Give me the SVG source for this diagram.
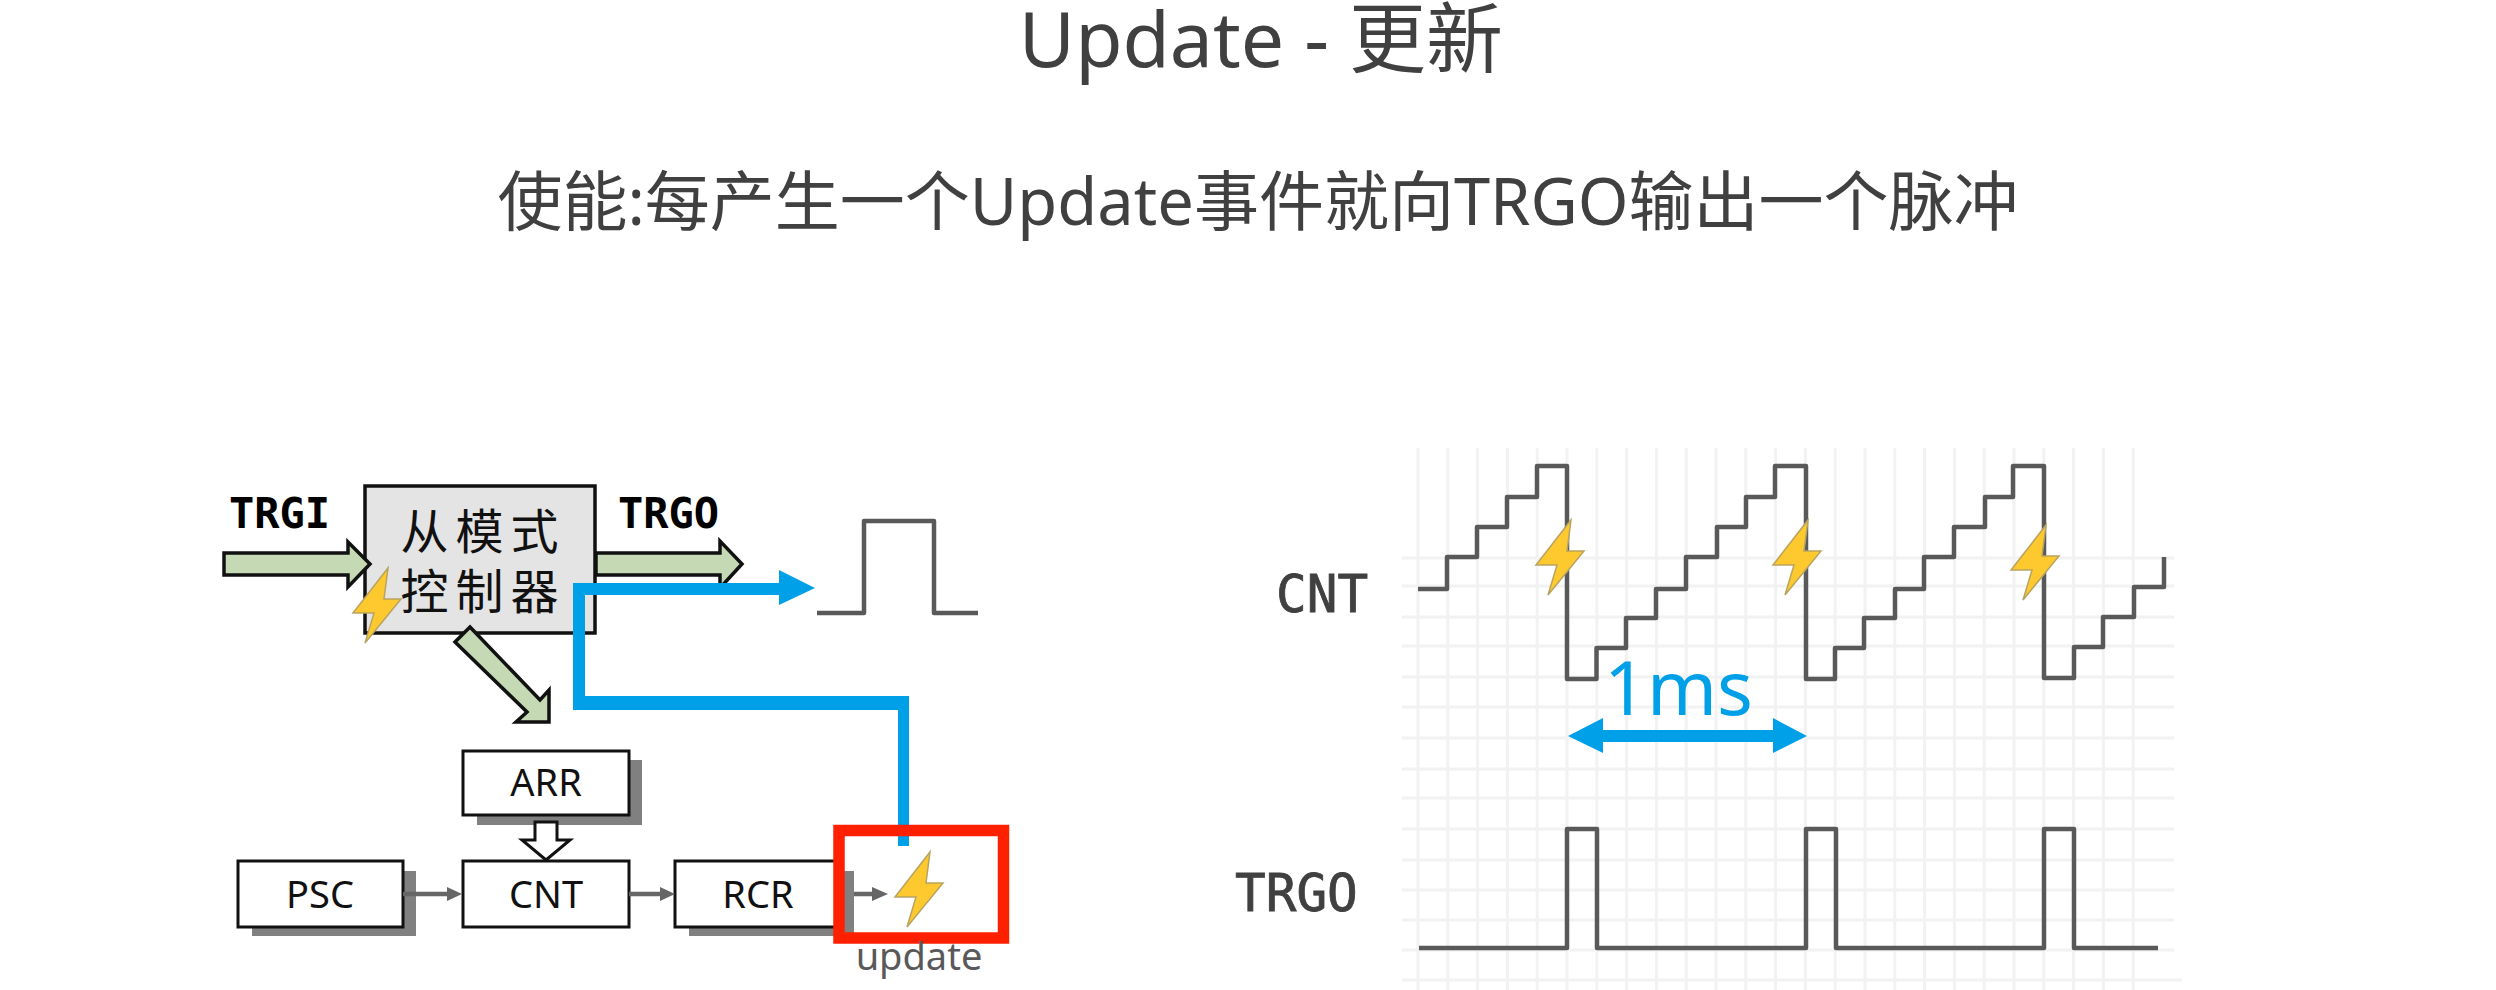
<svg xmlns="http://www.w3.org/2000/svg" xmlns:xlink="http://www.w3.org/1999/xlink" width="2496" height="990" viewBox="0 0 2496 990">
<style>
.t{font-family:"Noto Sans","Noto Sans CJK SC",sans-serif;fill:#404040}
.box{fill:#fff;stroke:#111;stroke-width:3}
.sh{fill:#808080}
.lb{font-family:"Noto Sans","Noto Sans CJK SC",sans-serif;font-size:38px;fill:#111;text-anchor:middle}
.mono{font-family:"DejaVu Sans Mono",monospace;font-size:51px;fill:#404040;stroke:#404040;stroke-width:.8}
.mb{font-family:"DejaVu Sans Mono",monospace;font-weight:bold;font-size:42px;fill:#000}
.cj{font-family:"Noto Sans CJK SC",sans-serif;font-size:48px;fill:#111;text-anchor:middle;letter-spacing:7px}
.ga{fill:#c5d9b5;stroke:#111;stroke-width:3.5}
.wave{fill:none;stroke:#595959;stroke-width:4.5;stroke-linejoin:round}
.bolt{fill:#fdc92f;stroke:#b9a45f;stroke-width:1.5}
.sa{fill:none;stroke:#666;stroke-width:4.5}
.ah{fill:#666}
.blue{fill:#00a0e9}
</style>
<defs>
<polygon id="b" points="35,0 31,31 48,31 12,75 21,45 0,45"/>
</defs>
<rect width="2496" height="990" fill="#fff"/>
<text class="t" x="1261" y="67" font-size="77" text-anchor="middle">Update - 更新</text>
<text class="t" x="1258" y="225" font-size="65" text-anchor="middle">使能:每产生一个Update事件就向TRGO输出一个脉冲</text>

<g id="grid" fill="none" stroke="#f2f2f2" stroke-width="3">
<path d="M1418 448V990M1447.8 448V990M1477.6 448V990M1507.4 448V990M1537.2 448V990M1567 448V990M1596.8 448V990M1626.6 448V990M1656.4 448V990M1686.2 448V990M1716 448V990M1745.8 448V990M1775.6 448V990M1805.4 448V990M1835.2 448V990M1865 448V990M1894.8 448V990M1924.6 448V990M1954.4 448V990M1984.2 448V990M2014 448V990M2043.8 448V990M2073.6 448V990M2103.4 448V990M2133.2 448V990"/>
<path d="M1402 558H2174M1402 586H2174M1402 617H2174M1402 646H2174M1402 677H2174M1402 707H2174M1402 738H2174M1402 769H2174M1402 798H2174M1402 829H2174M1402 860H2174M1402 890H2174M1402 920H2174M1402 950H2174M1402 980H2182"/>
</g>

<g id="slave-mode-controller">
<rect x="365" y="486" width="230" height="147" fill="#e4e4e4" stroke="#111" stroke-width="3.5"/>
<text class="cj" x="483" y="549">从模式</text>
<text class="cj" x="483" y="609">控制器</text>
</g>
<g id="psc">
<rect class="sh" x="252" y="871" width="164" height="65"/>
<rect class="box" x="238" y="861" width="165" height="66"/>
<text class="lb" x="320" y="908">PSC</text>
</g>
<g id="arr">
<rect class="sh" x="477" y="760" width="165" height="65"/>
<rect class="box" x="463" y="751" width="166" height="64"/>
<text class="lb" x="546" y="796">ARR</text>
</g>
<g id="cnt">
<rect class="box" x="463" y="861" width="166" height="66"/>
<text class="lb" x="546" y="908">CNT</text>
</g>
<g id="rcr">
<rect class="sh" x="689" y="871" width="165" height="65"/>
<rect class="box" x="675" y="861" width="165" height="66"/>
<text class="lb" x="758" y="908">RCR</text>
</g>

<g id="connectors">
<polygon class="ga" points="224,553 348,553 348,542 370,564 348,587 348,575 224,575"/>
<polygon class="ga" points="596,553 720,553 720,541 742,564 720,588 720,575 596,575"/>
<polygon class="ga" points="470,627 540,700 549,690 549,722 516,722 527,712 455,642"/>
<polygon points="535,822 557,822 557,840 570,840 546,860 522,840 535,840" fill="#fff" stroke="#111" stroke-width="3"/>
<path class="sa" d="M403 894H449M629 894H664M854 894H874"/>
<polygon class="ah" points="447,887 462,894 447,901"/>
<polygon class="ah" points="660,887 675,894 660,901"/>
<polygon class="ah" points="872,887 888,894 872,901"/>
<polygon class="blue" points="573,583 779,583 779,570 815,588 779,605 779,595 585,595 585,696 909,696 909,846 898,846 898,710 573,710"/>
<rect class="blue" x="1595" y="730" width="185" height="12"/>
<polygon class="blue" points="1603,718 1603,753 1568,736"/>
<polygon class="blue" points="1773,718 1773,753 1807,736"/>
</g>

<g id="pulse"><path class="wave" d="M817 613H864V521H934V613H978"/></g>
<g id="cnt-wave"><path class="wave" d="M1418 589H1447V557H1477V527H1507V497H1537V466H1567V679H1596.500V648H1626V618H1656V589H1686V557H1717V527H1746V497H1775V466H1806V679H1835V648H1864V618H1895V589H1924V557H1954V527H1985V497H2013V466H2044V678H2074V647H2103V617H2134V587H2164V557"/></g>
<g id="trgo-wave"><path class="wave" d="M1419 948H1567V829H1597V948H1806V829H1836V948H2044V829H2074V948H2158"/></g>

<g id="update">
<rect x="839" y="830.500" width="164.500" height="107.500" fill="none" stroke="#ff2000" stroke-width="11.500"/>
<use xlink:href="#b" href="#b" class="bolt" x="895" y="852"/>
<text x="919" y="970" font-family="Noto Sans" font-size="38" fill="#595959" text-anchor="middle">update</text>
</g>
<g id="bolts">
<use xlink:href="#b" href="#b" class="bolt" x="353" y="568"/>
<use xlink:href="#b" href="#b" class="bolt" x="1536" y="520"/>
<use xlink:href="#b" href="#b" class="bolt" x="1773" y="520"/>
<use xlink:href="#b" href="#b" class="bolt" x="2011" y="525"/>
</g>

<g id="labels">
<text class="mb" x="229" y="528">TRGI</text>
<text class="mb" x="618" y="528">TRGO</text>
<text class="mono" x="1276" y="612">CNT</text>
<text class="mono" x="1235" y="911">TRGO</text>
<text x="1604" y="715" font-family="Noto Sans" font-size="75" fill="#00a0e9">1ms</text>
</g>
</svg>
